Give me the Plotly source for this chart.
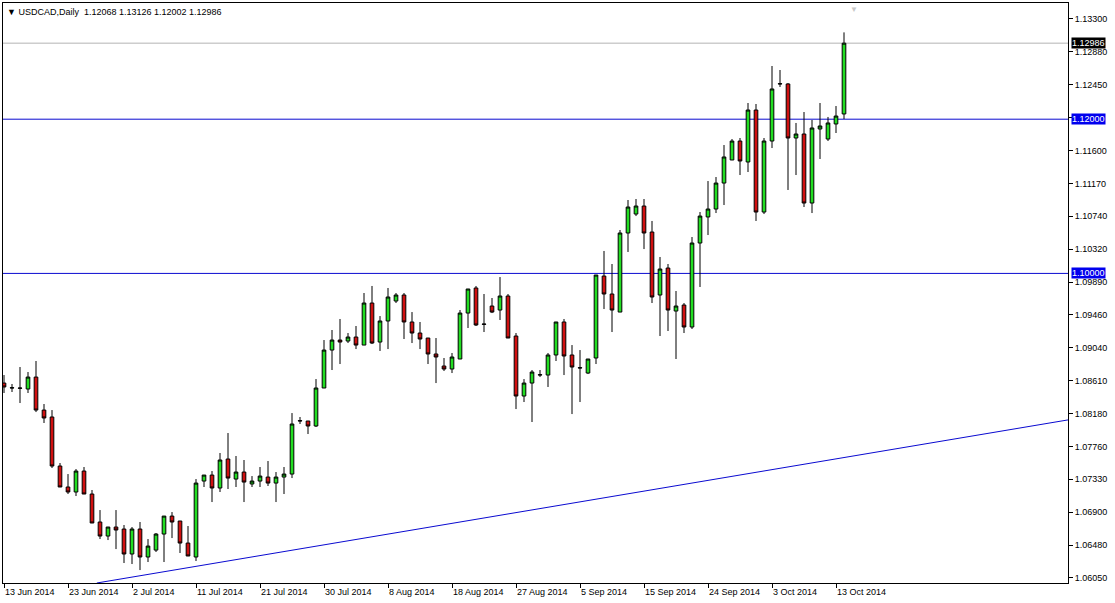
import plotly.graph_objects as go

# ---- data (USDCAD daily, MT4 with Sunday bars) ----
bar_index = list(range(106))

open_ = [
    1.08578, 1.08514, 1.08514, 1.08501, 1.08656, 1.08228, 1.08138, 1.07502, 1.07230, 1.07165,
    1.07437, 1.07139, 1.06776, 1.06594, 1.06711, 1.06685, 1.06361, 1.06685, 1.06322, 1.06412,
    1.06620, 1.06853, 1.06789, 1.06503, 1.06322, 1.07307, 1.07385, 1.07217, 1.07593, 1.07333,
    1.07424, 1.07269, 1.07307, 1.07359, 1.07281, 1.07359, 1.07398, 1.08086, 1.08086, 1.08021,
    1.08514, 1.09006, 1.09136, 1.09123, 1.09175, 1.09071, 1.09616, 1.09110, 1.09383, 1.09642,
    1.09720, 1.09370, 1.09227, 1.09162, 1.08955, 1.08799, 1.08760, 1.08890, 1.09486, 1.09811,
    1.09344, 1.09577, 1.09525, 1.09707, 1.09188, 1.08410, 1.08578, 1.08682, 1.08682, 1.08942,
    1.09370, 1.08942, 1.08773, 1.08708, 1.08903, 1.09966, 1.09733, 1.09499, 1.10524, 1.10770,
    1.10874, 1.10537, 1.09720, 1.10070, 1.09512, 1.09590, 1.09305, 1.10394, 1.10732, 1.10835,
    1.11172, 1.11471, 1.11717, 1.11445, 1.12119, 1.10796, 1.11717, 1.12457, 1.12457, 1.11756,
    1.11808, 1.10913, 1.11873, 1.11743, 1.11938, 1.12068,
]
high = [
    1.08682, 1.08566, 1.08786, 1.08721, 1.08864, 1.08306, 1.08228, 1.07541, 1.07398, 1.07463,
    1.07489, 1.07191, 1.06931, 1.06711, 1.06931, 1.06737, 1.06711, 1.06776, 1.06555, 1.06633,
    1.06853, 1.06905, 1.06789, 1.06724, 1.07333, 1.07385, 1.07437, 1.07671, 1.07930, 1.07632,
    1.07580, 1.07372, 1.07489, 1.07567, 1.07424, 1.07489, 1.08189, 1.08138, 1.08086, 1.08630,
    1.09136, 1.09266, 1.09409, 1.09227, 1.09318, 1.09746, 1.09837, 1.09447, 1.09811, 1.09746,
    1.09746, 1.09499, 1.09370, 1.09162, 1.09162, 1.08903, 1.08968, 1.09525, 1.09798, 1.09837,
    1.09733, 1.09681, 1.09953, 1.09733, 1.09227, 1.08630, 1.08747, 1.08747, 1.08968, 1.09370,
    1.09409, 1.09071, 1.09006, 1.08890, 1.09979, 1.10291, 1.10122, 1.10563, 1.10952, 1.10965,
    1.10965, 1.10680, 1.10213, 1.10122, 1.09772, 1.09616, 1.10472, 1.10796, 1.11198, 1.11250,
    1.11665, 1.11743, 1.11756, 1.12210, 1.12197, 1.11756, 1.12690, 1.12638, 1.12469, 1.11951,
    1.12093, 1.11990, 1.12210, 1.12029, 1.12171, 1.13126,
]
low = [
    1.08449, 1.08462, 1.08319, 1.08449, 1.08202, 1.08060, 1.07476, 1.07230, 1.07139, 1.07113,
    1.07139, 1.06763, 1.06555, 1.06542, 1.06425, 1.06244, 1.06231, 1.06153, 1.06257, 1.06387,
    1.06257, 1.06568, 1.06374, 1.06335, 1.06270, 1.07230, 1.07035, 1.07165, 1.07204, 1.07230,
    1.07035, 1.07230, 1.07230, 1.07243, 1.07035, 1.07139, 1.07346, 1.08047, 1.07917, 1.08008,
    1.08514, 1.08747, 1.08825, 1.09097, 1.09019, 1.09071, 1.09084, 1.08994, 1.09019, 1.09616,
    1.09149, 1.09097, 1.09019, 1.08825, 1.08578, 1.08734, 1.08708, 1.08890, 1.09292, 1.09318,
    1.09240, 1.09486, 1.09396, 1.09162, 1.08241, 1.08332, 1.08073, 1.08656, 1.08527, 1.08864,
    1.08682, 1.08176, 1.08332, 1.08695, 1.08825, 1.09538, 1.09240, 1.09499, 1.10278, 1.10744,
    1.10316, 1.09616, 1.09188, 1.09253, 1.08890, 1.09227, 1.09279, 1.09824, 1.10498, 1.10783,
    1.10887, 1.11471, 1.11276, 1.11315, 1.10680, 1.10770, 1.11626, 1.12418, 1.11082, 1.11276,
    1.10861, 1.10783, 1.11484, 1.11717, 1.11821, 1.12002,
]
close = [
    1.08527, 1.08517, 1.08511, 1.08656, 1.08228, 1.08125, 1.07502, 1.07230, 1.07165, 1.07437,
    1.07139, 1.06763, 1.06594, 1.06711, 1.06672, 1.06361, 1.06685, 1.06322, 1.06464, 1.06620,
    1.06853, 1.06776, 1.06503, 1.06335, 1.07281, 1.07385, 1.07217, 1.07580, 1.07346, 1.07424,
    1.07294, 1.07307, 1.07372, 1.07281, 1.07359, 1.07398, 1.08047, 1.08090, 1.08021, 1.08514,
    1.09006, 1.09136, 1.09110, 1.09175, 1.09071, 1.09616, 1.09097, 1.09383, 1.09694, 1.09720,
    1.09370, 1.09227, 1.09149, 1.08955, 1.08916, 1.08760, 1.08916, 1.09486, 1.09798, 1.09331,
    1.09340, 1.09499, 1.09707, 1.09162, 1.08410, 1.08578, 1.08721, 1.08686, 1.08942, 1.09370,
    1.08929, 1.08786, 1.08777, 1.08890, 1.09979, 1.09733, 1.09525, 1.10524, 1.10861, 1.10874,
    1.10524, 1.09694, 1.10057, 1.09525, 1.09577, 1.09305, 1.10394, 1.10744, 1.10835, 1.11172,
    1.11510, 1.11717, 1.11458, 1.12119, 1.10796, 1.11717, 1.12392, 1.12460, 1.11756, 1.11808,
    1.10913, 1.11886, 1.11912, 1.11951, 1.12041, 1.12986,
]

date_tick_index = [0, 8, 16, 24, 32, 40, 48, 56, 64, 72, 80, 88, 96, 104]
date_tick_labels = ["13 Jun 2014", "23 Jun 2014", "2 Jul 2014", "11 Jul 2014", "21 Jul 2014",
                    "30 Jul 2014", "8 Aug 2014", "18 Aug 2014", "27 Aug 2014", "5 Sep 2014",
                    "15 Sep 2014", "24 Sep 2014", "3 Oct 2014", "13 Oct 2014"]

price_tick_labels = ["1.13300", "1.12880", "1.12450", "", "1.11600", "1.11170", "1.10740",
                     "1.10320", "1.09890", "1.09460", "1.09040", "1.08610", "1.08180",
                     "1.07760", "1.07330", "1.06900", "1.06480", "1.06050"]
price_top, price_bottom = 1.13300, 1.06050

level_lines = [1.12000, 1.10000]
bid_price = 1.12986
trend_x = [11.6, 133.0]
trend_y = [1.05985, 1.08100]

title_text = "USDCAD,Daily  1.12068 1.13126 1.12002 1.12986"

# ---- figure ----
n_ticks = len(price_tick_labels)
step = (price_top - price_bottom) / (n_ticks - 1)
price_tick_vals = [price_top - k * step for k in range(n_ticks)]

FONT = "Liberation Sans"
BLUE = "#0a0ad0"

fig = go.Figure()
fig.add_trace(go.Candlestick(
    x=bar_index, open=open_, high=high, low=low, close=close,
    increasing=dict(fillcolor="#22dd22", line=dict(color="black", width=1)),
    decreasing=dict(fillcolor="#d01010", line=dict(color="black", width=1)),
    whiskerwidth=0, showlegend=False, hoverinfo="skip",
))

fig.add_trace(go.Scatter(x=trend_x, y=trend_y, mode="lines",
                         line=dict(color=BLUE, width=1), showlegend=False, hoverinfo="skip"))

shapes = []
for lv in level_lines:
    shapes.append(dict(type="line", xref="paper", x0=0, x1=1, yref="y", y0=lv, y1=lv,
                       line=dict(color=BLUE, width=1), layer="below"))
shapes.append(dict(type="line", xref="paper", x0=0, x1=1, yref="y", y0=bid_price, y1=bid_price,
                   line=dict(color="#b4b4b4", width=1), layer="below"))

annotations = []
for lv in level_lines:
    annotations.append(dict(xref="paper", x=1, xanchor="left", xshift=3, yref="y", y=lv,
                            yanchor="middle", text=f"{lv:.5f}", showarrow=False,
                            font=dict(family=FONT, size=9, color="white"),
                            bgcolor="#0000ee", borderpad=0))
annotations.append(dict(xref="paper", x=1, xanchor="left", xshift=3, yref="y", y=bid_price,
                        yanchor="middle", text=f"{bid_price:.5f}", showarrow=False,
                        font=dict(family=FONT, size=9, color="white"),
                        bgcolor="black", borderpad=0))
annotations.append(dict(xref="paper", x=0, xanchor="left", xshift=2, yref="paper", y=1,
                        yanchor="top", yshift=-2, text="\u25bc " + title_text, showarrow=False,
                        font=dict(family=FONT, size=9, color="black")))
annotations.append(dict(xref="x", x=106.2, yref="paper", y=1, yanchor="top", yshift=0,
                        text="\u25bc", showarrow=False,
                        font=dict(family=FONT, size=8, color="#c8c8c8")))

fig.update_layout(
    width=1115, height=603,
    margin=dict(l=3, r=47, t=3, b=20),
    paper_bgcolor="white", plot_bgcolor="white",
    shapes=shapes, annotations=annotations,
    font=dict(family=FONT, size=9, color="black"),
    xaxis=dict(
        range=[-0.125, 133.0], rangeslider=dict(visible=False),
        tickmode="array", tickvals=date_tick_index, ticktext=date_tick_labels,
        ticks="outside", ticklen=4, tickcolor="black", tickwidth=1,
        ticklabelposition="outside right",
        showgrid=False, zeroline=False,
        showline=True, linecolor="black", linewidth=1, mirror=True,
        tickfont=dict(family=FONT, size=9, color="black"),
    ),
    yaxis=dict(
        side="right", range=[1.05985, 1.13507],
        tickmode="array", tickvals=price_tick_vals, ticktext=price_tick_labels,
        ticks="outside", ticklen=4, tickcolor="black", tickwidth=1,
        showgrid=False, zeroline=False,
        showline=True, linecolor="black", linewidth=1, mirror=True,
        tickfont=dict(family=FONT, size=9, color="black"),
    ),
    boxgap=0.35,
)

fig.write_html("out.html", config={"displayModeBar": False},
               post_script="document.body.style.margin='0px';document.body.style.overflow='hidden';")
